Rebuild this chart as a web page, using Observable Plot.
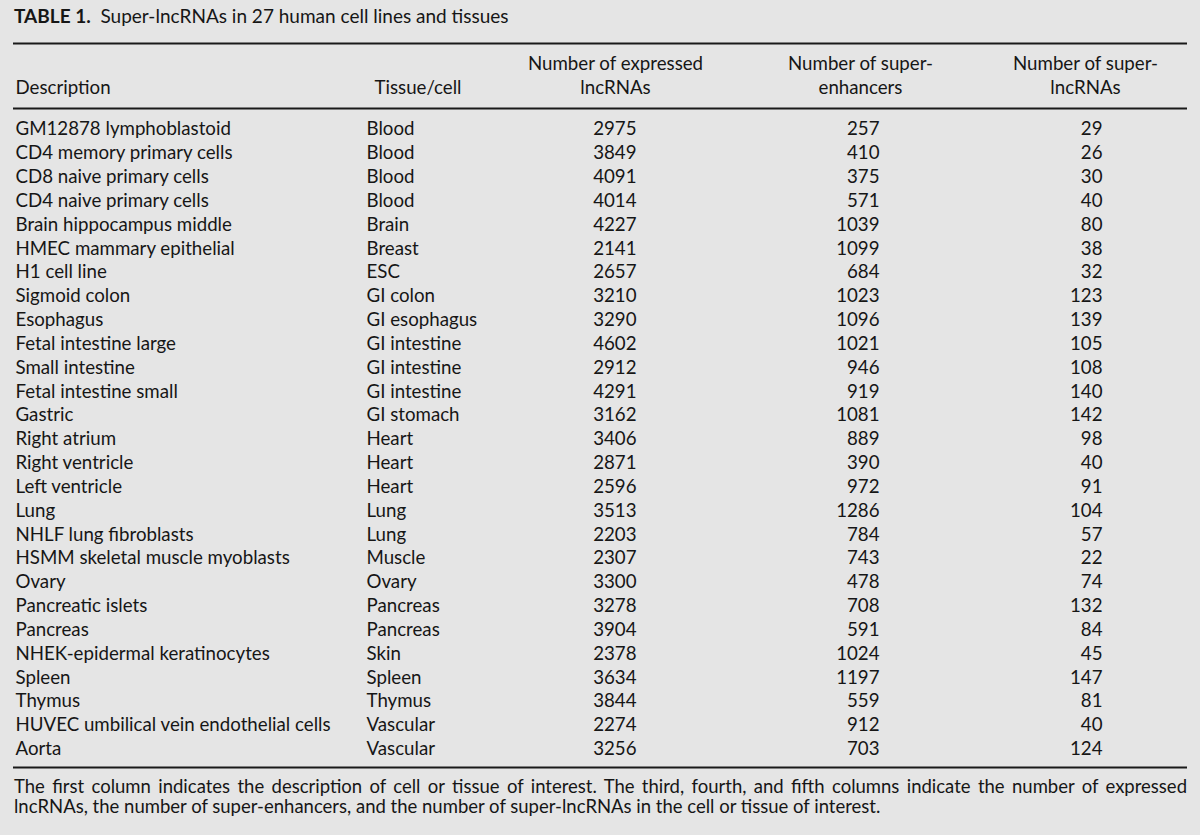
<!DOCTYPE html>
<html>
<head>
<meta charset="utf-8">
<script src="https://cdn.jsdelivr.net/npm/d3@7"></script>
<script src="https://cdn.jsdelivr.net/npm/@observablehq/plot@0.6"></script>
<style>
  html, body { margin: 0; padding: 0; background: #e5e5e5; }
  body { width: 1200px; height: 835px; position: relative; overflow: hidden;
         font-family: Lato, "Open Sans", sans-serif; color: #161616; }
  #title { position: absolute; left: 14px; top: 4px; font-size: 19px; white-space: nowrap; }
  #title b { font-weight: 700; }
  #chart { position: absolute; left: 0; top: 30px; }
  #note { position: absolute; left: 14px; top: 776px; width: 1173px; font-size: 18.5px; line-height: 20px; }
  #note .l1 { text-align: justify; text-align-last: justify; white-space: nowrap; }
</style>
</head>
<body>
<div id="title"><b>TABLE 1.</b>&nbsp; Super-lncRNAs in 27 human cell lines and tissues</div>
<div id="chart"></div>
<div id="note">
  <div class="l1">The first column indicates the description of cell or tissue of interest. The third, fourth, and fifth columns indicate the number of expressed</div>
  <div>lncRNAs, the number of super-enhancers, and the number of super-lncRNAs in the cell or tissue of interest.</div>
</div>
<script>
const descriptions = [
  "GM12878 lymphoblastoid", "CD4 memory primary cells", "CD8 naive primary cells",
  "CD4 naive primary cells", "Brain hippocampus middle", "HMEC mammary epithelial",
  "H1 cell line", "Sigmoid colon", "Esophagus", "Fetal intestine large", "Small intestine",
  "Fetal intestine small", "Gastric", "Right atrium", "Right ventricle", "Left ventricle",
  "Lung", "NHLF lung fibroblasts", "HSMM skeletal muscle myoblasts", "Ovary",
  "Pancreatic islets", "Pancreas", "NHEK-epidermal keratinocytes", "Spleen", "Thymus",
  "HUVEC umbilical vein endothelial cells", "Aorta"
];
const tissues = [
  "Blood", "Blood", "Blood", "Blood", "Brain", "Breast", "ESC", "GI colon", "GI esophagus",
  "GI intestine", "GI intestine", "GI intestine", "GI stomach", "Heart", "Heart", "Heart",
  "Lung", "Lung", "Muscle", "Ovary", "Pancreas", "Pancreas", "Skin", "Spleen", "Thymus",
  "Vascular", "Vascular"
];
const expressedLncRNAs = [2975, 3849, 4091, 4014, 4227, 2141, 2657, 3210, 3290, 4602, 2912, 4291, 3162,
  3406, 2871, 2596, 3513, 2203, 2307, 3300, 3278, 3904, 2378, 3634, 3844, 2274, 3256];
const superEnhancers = [257, 410, 375, 571, 1039, 1099, 684, 1023, 1096, 1021, 946, 919, 1081,
  889, 390, 972, 1286, 784, 743, 478, 708, 591, 1024, 1197, 559, 912, 703];
const superLncRNAs = [29, 26, 30, 40, 80, 38, 32, 123, 139, 105, 108, 140, 142,
  98, 40, 91, 104, 57, 22, 74, 132, 84, 45, 147, 81, 40, 124];
const headerLine1 = ["", "", "Number of expressed", "Number of super-", "Number of super-"];
const headerLine2 = ["Description", "Tissue/cell", "lncRNAs", "enhancers", "lncRNAs"];

// layout (pixels / row units)
const W = 1200, H = 760, svgTop = 30;
const firstRowPx = 129 - svgTop, rowPitch = 23.83;
const yDomain = [-firstRowPx / rowPitch, (H - firstRowPx) / rowPitch];
const ruleX1 = 13, ruleX2 = 1187;
const rulesAt = [(43 - 129) / rowPitch, (108 - 129) / rowPitch, (767 - 129) / rowPitch];
const head1At = (64 - 129) / rowPitch, head2At = (88 - 129) / rowPitch;
const FS = 18.7;
// column anchors: [x, textAnchor] for body, header
const colBody = [[15, "start"], [366, "start"], [636, "end"], [879, "end"], [1102, "end"]];
const colHead = [[15, "start"], [374, "start"], [615, "middle"], [860, "middle"], [1085, "middle"]];

const rows = descriptions.map((d, i) => ({
  row: i, cells: [d, tissues[i], String(expressedLncRNAs[i]), String(superEnhancers[i]), String(superLncRNAs[i])]
}));
const bodyCells = rows.flatMap(r => r.cells.map((t, c) => ({row: r.row, col: c, text: t})));
const headCells = [
  ...headerLine1.map((t, c) => ({row: head1At, col: c, text: t})),
  ...headerLine2.map((t, c) => ({row: head2At, col: c, text: t}))
].filter(d => d.text);

const textMarks = (cells, cols) => ["start", "middle", "end"].map(anchor =>
  Plot.text(cells.filter(d => cols[d.col][1] === anchor), {
    x: d => cols[d.col][0], y: "row", text: "text", textAnchor: anchor,
    fill: "#161616", fontSize: FS, lineAnchor: "middle"
  }));

const chart = Plot.plot({
  width: W, height: H, margin: 0,
  style: {background: "transparent", fontFamily: "Lato, 'Open Sans', sans-serif", fontSize: FS + "px", color: "#161616"},
  x: {domain: [0, W], range: [0, W], axis: null},
  y: {domain: yDomain, range: [0, H], axis: null},
  marks: [
    Plot.ruleY(rulesAt, {x1: ruleX1, x2: ruleX2, stroke: "#1a1a1a", strokeWidth: 2}),
    ...textMarks(headCells, colHead),
    ...textMarks(bodyCells, colBody)
  ]
});
document.getElementById("chart").appendChild(chart);
</script>
</body>
</html>
